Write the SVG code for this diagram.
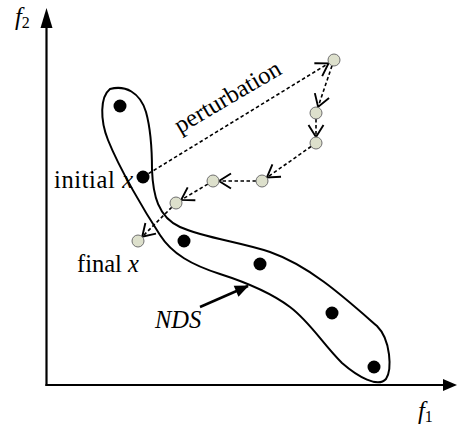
<svg xmlns="http://www.w3.org/2000/svg" width="459" height="426" viewBox="0 0 459 426">
<style>
.t{font-family:"Liberation Serif","Times New Roman","DejaVu Serif",serif;font-size:24.5px;fill:#000}
.i{font-style:italic}
.dash{stroke:#000;stroke-width:1.6;stroke-dasharray:3.5,2.5;fill:none;marker-end:url(#v)}
.sol{fill:#000}
.sol2{fill:#dde0cc;stroke:#6f6f6f;stroke-width:1}
.ax{stroke:#000;stroke-width:2.2;fill:none}
</style>
<defs>
<marker id="v" markerUnits="userSpaceOnUse" markerWidth="14" markerHeight="16" refX="12" refY="8" orient="auto" overflow="visible">
<path d="M0,0.5 L12,8 L0,15.5" fill="none" stroke="#000" stroke-width="1.9"/>
</marker>
<marker id="fa" markerUnits="userSpaceOnUse" markerWidth="14" markerHeight="12" refX="13" refY="6" orient="auto" overflow="visible">
<path d="M0,0 L14,6 L0,12 Z" fill="#000"/>
</marker>
</defs>
<g id="axes">
<line class="ax" x1="46.5" y1="386" x2="46.5" y2="26"/>
<polygon points="46.5,8 40.5,28 52.5,28" fill="#000"/>
<line class="ax" x1="45.5" y1="385" x2="444" y2="385"/>
<polygon points="457,385 443,379 443,391" fill="#000"/>
<text class="t i" x="15" y="25">f<tspan font-style="normal" font-size="16" dy="3">2</tspan></text>
<text class="t i" x="418" y="419">f<tspan font-style="normal" font-size="16" dy="3">1</tspan></text>
</g>
<g id="nds">
<path d="M110,89 C125,85 140,92 146,112 C151,130 152,150 152,170 C153,195 158,217 180,227 C205,238 240,242 270,252 C310,266 345,298 377,326 C391,340 392,370 386,379 C378,388 358,377 342,363 C322,343 310,322 290,307 C270,292 245,282 220,274 C192,265 172,254 160,235 C145,212 120,170 108,140 C100,120 100,97 110,89 Z" fill="none" stroke="#000" stroke-width="2"/>
<circle class="sol" cx="120" cy="106" r="6.5"/>
<circle class="sol" cx="143" cy="177" r="6.5"/>
<circle class="sol" cx="184" cy="241" r="6.5"/>
<circle class="sol" cx="260" cy="264" r="6.5"/>
<circle class="sol" cx="332" cy="313" r="6.5"/>
<circle class="sol" cx="374" cy="367" r="6.5"/>
<text class="t i" x="155" y="328">NDS</text>
</g>
<g id="connectors">
<line class="dash" x1="148.5" y1="173.6" x2="328.5" y2="63.4"/>
<line class="dash" x1="332" y1="65.7" x2="318.1" y2="106.9"/>
<line class="dash" x1="316" y1="119" x2="316" y2="137"/>
<line class="dash" x1="311.1" y1="146.5" x2="266.9" y2="177.5"/>
<line class="dash" x1="256" y1="181" x2="219" y2="181"/>
<line class="dash" x1="207.8" y1="184.1" x2="181.2" y2="199.9"/>
<line class="dash" x1="171.8" y1="207.2" x2="142.2" y2="236.8"/>
<line x1="200" y1="307" x2="248" y2="286" stroke="#000" stroke-width="2.5" marker-end="url(#fa)"/>
</g>
<g id="path-points">
<circle class="sol2" cx="334" cy="60" r="6"/>
<circle class="sol2" cx="316" cy="113" r="6"/>
<circle class="sol2" cx="316" cy="143" r="6"/>
<circle class="sol2" cx="262" cy="181" r="6"/>
<circle class="sol2" cx="213" cy="181" r="6"/>
<circle class="sol2" cx="176" cy="203" r="6"/>
<circle class="sol2" cx="138" cy="241" r="6"/>
</g>
<g id="labels">
<text class="t" transform="translate(180,134) rotate(-30.5)">perturbation</text>
<text class="t" x="54" y="188" textLength="79" lengthAdjust="spacing">initial <tspan font-style="italic">x</tspan></text>
<text class="t" x="77" y="272">final <tspan font-style="italic">x</tspan></text>
</g>
</svg>
